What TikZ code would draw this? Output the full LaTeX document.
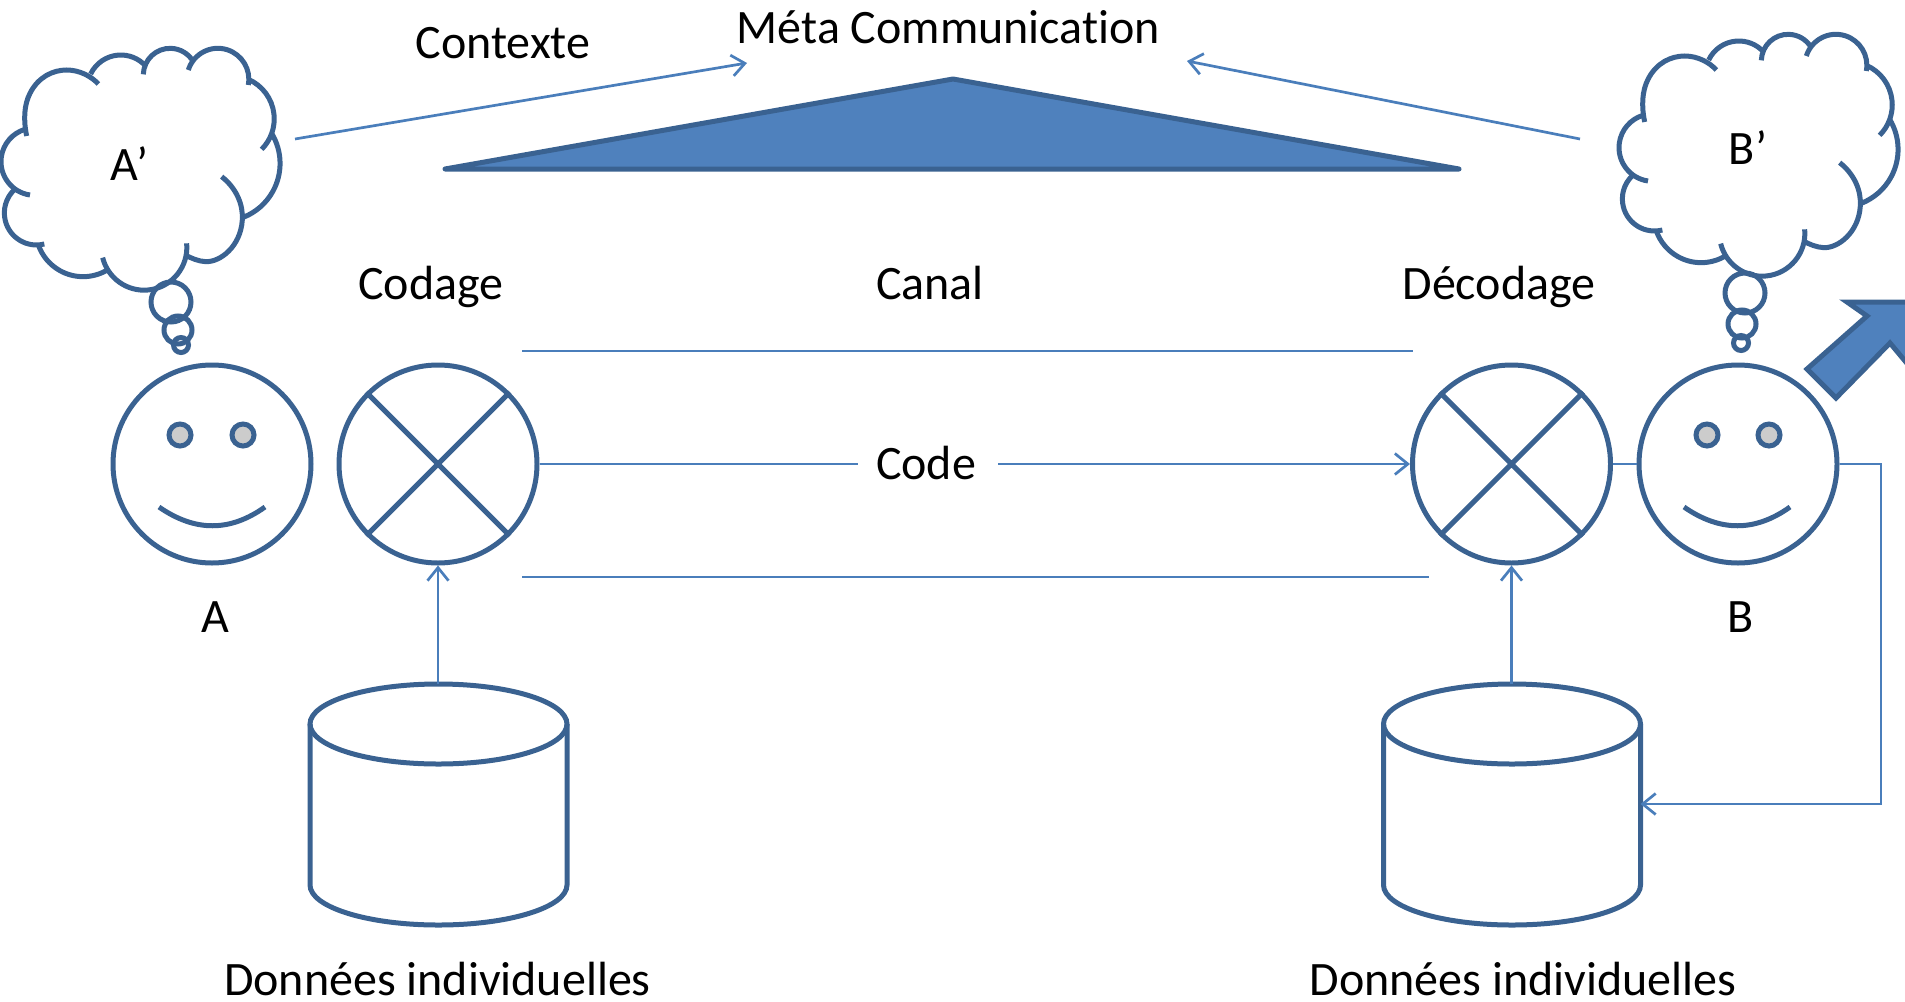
\documentclass[tikz,border=0pt]{standalone}
\usepackage{fontspec}
\setmainfont[Ligatures=CommonOff]{Carlito}
\usetikzlibrary{arrows.meta,shapes.geometric}
\definecolor{dk}{HTML}{3A6291}
\definecolor{lt}{HTML}{4A7EBB}
\definecolor{fl}{HTML}{4F81BD}
\tikzset{
  thick line/.style={draw=dk,line width=5pt},
  thin line/.style={draw=lt,line width=2.7pt},
  arr/.style={thin line,-{Straight Barb[length=13pt,width=21pt,line width=2.7pt]}},
  disc/.style={circle,thick line,minimum size=198pt,inner sep=0pt},
  eye/.style={circle,thick line,fill=black!20,minimum size=22pt,inner sep=0pt},
  bub/.style={circle,thick line,inner sep=0pt},
  lab/.style={font=\fontsize{48pt}{48pt}\selectfont,text=black,inner sep=0pt,anchor=base},
  lobe/.style={thick line,line cap=butt},
}
% circular arc through three points (x1,y1) (x2,y2) (x3,y3)
\newcommand{\lobeArc}[6]{%
  \pgfmathsetmacro\lbx{(#3-#1)/100}\pgfmathsetmacro\lby{(#4-#2)/100}%
  \pgfmathsetmacro\lcx{(#5-#1)/100}\pgfmathsetmacro\lcy{(#6-#2)/100}%
  \pgfmathsetmacro\ld{2*(\lbx*\lcy-\lby*\lcx)}%
  \pgfmathsetmacro\lbb{\lbx*\lbx+\lby*\lby}\pgfmathsetmacro\lcc{\lcx*\lcx+\lcy*\lcy}%
  \pgfmathsetmacro\lux{(\lcy*\lbb-\lby*\lcc)/\ld}%
  \pgfmathsetmacro\luy{(\lbx*\lcc-\lcx*\lbb)/\ld}%
  \pgfmathsetmacro\lr{100*veclen(\lux,\luy)}%
  \pgfmathsetmacro\lA{atan2(-\luy,-\lux)}%
  \pgfmathsetmacro\lB{atan2(\lcy-\luy,\lcx-\lux)}%
  \pgfmathsetmacro\lM{atan2(\lby-\luy,\lbx-\lux)}%
  \pgfmathsetmacro\lS{Mod(\lB-\lA,360)}%
  \pgfmathsetmacro\lT{Mod(\lM-\lA,360)}%
  \pgfmathsetmacro\lD{\lT>\lS?\lS-360:\lS}%
  \draw[lobe] (#1,#2) arc[start angle=\lA,delta angle=\lD,x radius=\lr,y radius=\lr];%
}
\newcommand{\cloudlobes}{%
  \lobeArc{90}{495}{3}{395}{75}{298}%
  \draw[lobe] (80,318) .. controls (70,270) and (72,225) .. (90,190) .. controls (115,140) and (160,120) .. (200,120) .. controls (240,120) and (275,140) .. (295,162);%
  \lobeArc{272}{132}{365}{75}{437}{108}%
  \lobeArc{430}{133}{510}{55}{580}{95}%
  \lobeArc{565}{120}{650}{55}{745}{165}%
  \lobeArc{745}{148}{820}{240}{785}{358}%
  \lobeArc{815}{310}{840}{410}{730}{562}%
  \draw[lobe] (665,440) .. controls (710,475) and (730,525) .. (727,570) .. controls (722,650) and (660,697) .. (617,695) .. controls (595,694) and (575,685) .. (555,675);%
  \lobeArc{560}{640}{470}{775}{308}{683}%
  \lobeArc{322}{720}{245}{740}{115}{645}%
  \lobeArc{133}{642}{35}{610}{42}{480}%
}
\begin{document}
\begin{tikzpicture}[x=1pt,y=-1pt]
\path[use as bounding box] (0,0) rectangle (1905,1001);
\clip (0,0) rectangle (1905,1001);
% clouds
\begin{scope}[x=0.3333pt,y=-0.3333pt,shift={(0pt,-30pt)}]\cloudlobes\end{scope}
\begin{scope}[x=0.3333pt,y=-0.3333pt,shift={(1618pt,-16pt)}]\cloudlobes\end{scope}
\node[bub,minimum size=40pt] (ab1) at (171,302) {};
\node[bub,minimum size=28pt] (ab2) at (178,330) {};
\node[bub,minimum size=15pt] (ab3) at (181,345) {};
\node[bub,minimum size=40pt] (bb1) at (1745,293) {};
\node[bub,minimum size=28pt] (bb2) at (1742,324) {};
\node[bub,minimum size=15pt] (bb3) at (1741,343) {};
% triangle
\path[thick line,fill=fl,line join=round,line cap=round] (445,169) -- (953,79) -- (1459,169) -- cycle;
% faces and mixers
\node[disc] (fa) at (212,464) {};
\node[disc] (ca) at (438,464) {};
\node[disc] (cb) at (1511.5,464) {};
\node[disc] (fb) at (1738,464) {};
\draw[thick line] (ca.north west) -- (ca.south east) (ca.north east) -- (ca.south west);
\draw[thick line] (cb.north west) -- (cb.south east) (cb.north east) -- (cb.south west);
\node[eye] (ea1) at (180,435) {};
\node[eye] (ea2) at (243,435) {};
\node[eye] (eb1) at (1707,435) {};
\node[eye] (eb2) at (1769,435) {};
\draw[thick line] (159,507) .. controls (195,532) and (230,532) .. (265,507);
\draw[thick line] (1684,507) .. controls (1720,532) and (1755,532) .. (1790,507);
% cylinders
\foreach \l in {310,1383.5}{
  \draw[thick line] (\l,724) -- (\l,885) arc[start angle=180,end angle=360,x radius=128.5,y radius=-40] -- (\l+257,724);
  \draw[thick line] (\l+128.5,724) ellipse[x radius=128.5,y radius=40];
}
\coordinate (datop) at (438,684);
\coordinate (dbtop) at (1511.5,684);
\coordinate (dbeast) at (1640.5,804);
% connectors
\coordinate (c1s) at (522,351); \coordinate (c1e) at (1413,351);
\coordinate (c2s) at (522,577); \coordinate (c2e) at (1429,577);
\draw[thin line] (c1s) -- (c1e);
\draw[thin line] (c2s) -- (c2e);
\coordinate (ctxa) at (295,139); \coordinate (ctxb) at (747,63);
\coordinate (ctxc) at (1580,139); \coordinate (ctxd) at (1187,61);
\draw[arr] (ctxa) -- (ctxb);
\draw[arr] (ctxc) -- (ctxd);
\node[lab] (code) at (926,479) {Code};
\coordinate (codeL) at (858,464);
\coordinate (codeR) at (998,464);
\draw[thin line] (ca.east) -- (codeL);
\draw[arr] (codeR) -- (cb.west);
\draw[thin line] (cb.east) -- (fb.west);
\draw[arr] (datop) -- (ca.south);
\draw[arr] (dbtop) -- (cb.south);
\draw[arr] (fb.east) -- (1881,464) -- (1881,804) -- (dbeast);
% big arrow
\path[draw=dk,line width=5pt,fill=fl,miter limit=10] (1807,369) -- (1867,316) -- (1847,302) -- (1915,302) -- (1915,373) -- (1890,343) -- (1836,398) -- cycle;
% labels
\node[lab] (tctx) at (503,58) {Contexte};
\node[lab] (tmeta) at (948.5,43) {Méta Communication};
\node[lab] (tapr) at (129,180) {A’};
\node[lab] (tbpr) at (1748,164) {B’};
\node[lab] (tcod) at (431,299) {Codage};
\node[lab] (tcan) at (930,299) {Canal};
\node[lab] (tdec) at (1499,299) {Décodage};
\node[lab] (ta) at (215,632) {A};
\node[lab] (tb) at (1741,632) {B};
\node[lab] (td1) at (437.5,995) {Données individuelles};
\node[lab] (td2) at (1523,995) {Données individuelles};
\end{tikzpicture}
\end{document}
